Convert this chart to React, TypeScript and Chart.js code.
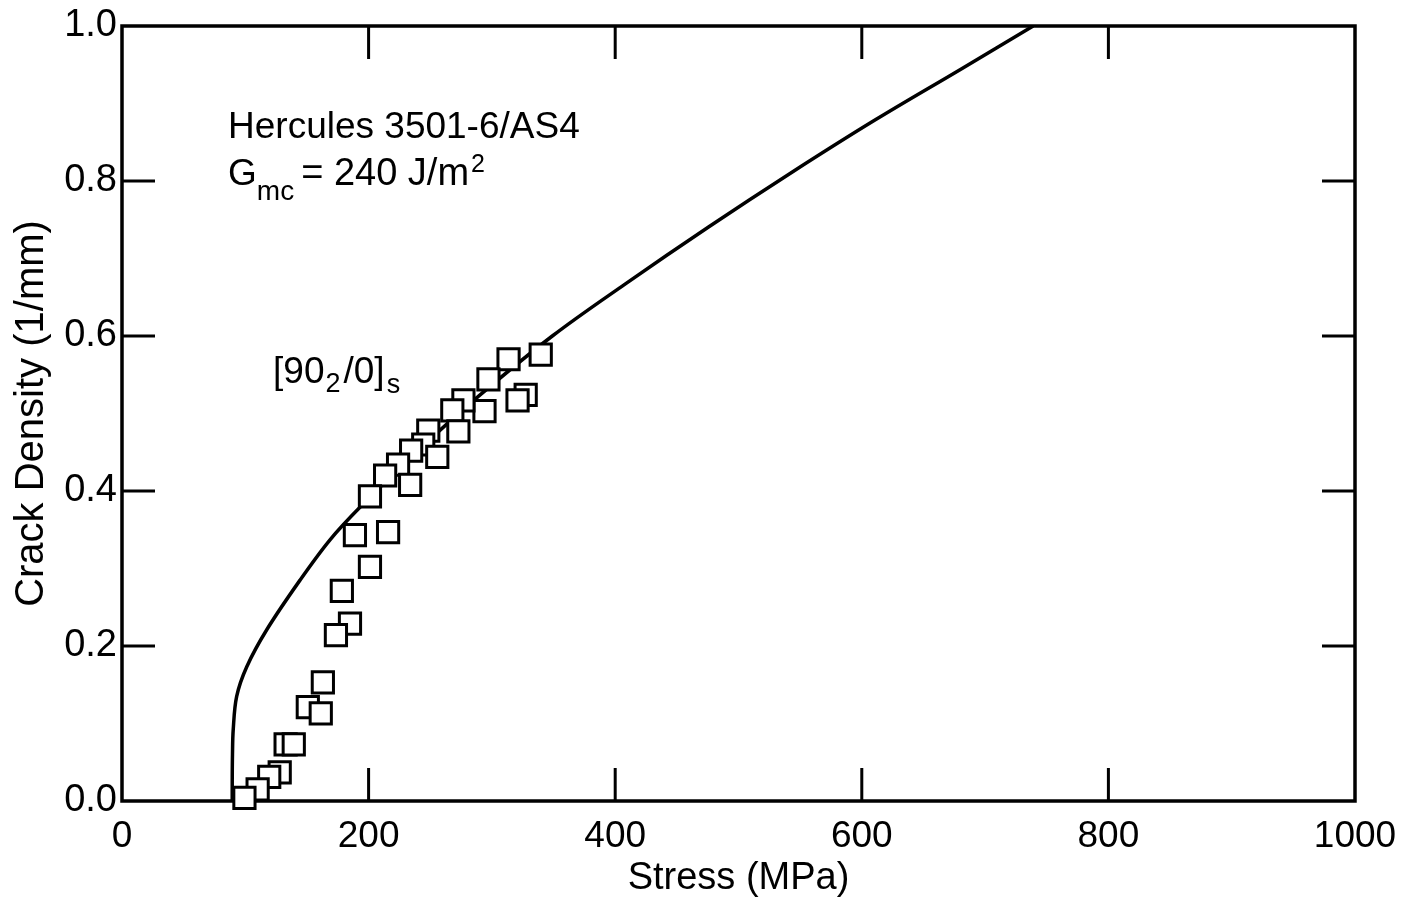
import React, { useEffect, useRef } from "react";
import { Chart, registerables } from "chart.js";

Chart.register(...registerables);

// Model curve (solid line)
const curveStress = [89.4, 89.4, 89.6, 90.2, 93.0, 101.1, 117.4, 144.4, 168.7, 193, 240, 289, 349, 408, 476, 544, 611, 680, 739];
const curveDensity = [0, 0.027, 0.06, 0.092, 0.135, 0.173, 0.221, 0.285, 0.337, 0.379, 0.452, 0.522, 0.6, 0.667, 0.741, 0.812, 0.879, 0.944, 1.0];

// Experimental data (open squares)
const expStress = [
  339.6, 313.5, 327.4, 320.8, 297.2, 294.0, 276.9, 267.9, 272.8, 248.4, 244.3, 255.7, 234.5, 223.9, 233.7,
  213.4, 201.1, 188.9, 215.8, 201.1, 178.3, 184.9, 173.5, 162.9, 150.7, 161.2, 132.7, 139.3, 127.9, 119.4,
  110.0, 99.3,
];
const expDensity = [
  0.576, 0.57, 0.524, 0.517, 0.544, 0.503, 0.517, 0.504, 0.477, 0.478, 0.46, 0.444, 0.452, 0.434, 0.408,
  0.42, 0.393, 0.343, 0.347, 0.302, 0.271, 0.229, 0.214, 0.153, 0.121, 0.113, 0.073, 0.073, 0.037, 0.031,
  0.015, 0.004,
];

const xTicks = [0, 200, 400, 600, 800, 1000];
const yTicks = [0, 0.2, 0.4, 0.6, 0.8, 1.0];

const FONT = "'Liberation Sans', Arial, Helvetica, sans-serif";

const framePlugin = {
  id: "frameTicks",
  beforeDatasetsDraw(chart: any) {
    const { ctx, chartArea: a, scales } = chart;
    const xs = scales.x;
    const ys = scales.y;
    const len = 33;
    ctx.save();
    ctx.strokeStyle = "#000";
    ctx.lineWidth = 3.5;
    ctx.lineCap = "square";
    ctx.strokeRect(a.left, a.top, a.right - a.left, a.bottom - a.top);
    ctx.beginPath();
    ctx.lineWidth = 3;
    ctx.lineCap = "butt";
    xTicks.forEach((v) => {
      if (v === xTicks[0] || v === xTicks[xTicks.length - 1]) return;
      const px = xs.getPixelForValue(v);
      ctx.moveTo(px, a.bottom);
      ctx.lineTo(px, a.bottom - len);
      ctx.moveTo(px, a.top);
      ctx.lineTo(px, a.top + len);
    });
    yTicks.forEach((v) => {
      if (v === yTicks[0] || v === yTicks[yTicks.length - 1]) return;
      const py = ys.getPixelForValue(v);
      ctx.moveTo(a.left, py);
      ctx.lineTo(a.left + len, py);
      ctx.moveTo(a.right, py);
      ctx.lineTo(a.right - len, py);
    });
    ctx.stroke();
    ctx.restore();
  },
  afterDraw(chart: any) {
    const { ctx, scales } = chart;
    const xs = scales.x;
    const ys = scales.y;
    ctx.save();
    ctx.fillStyle = "#000";
    ctx.textBaseline = "alphabetic";
    ctx.textAlign = "left";
    const big = `37px ${FONT}`;
    const sub = `28px ${FONT}`;
    const sup = `25px ${FONT}`;

    // Hercules 3501-6/AS4
    let x = xs.getPixelForValue(86);
    let y = ys.getPixelForValue(0.855);
    ctx.font = big;
    ctx.fillText("Hercules 3501-6/AS4", x, y);

    // G_mc = 240 J/m^2
    y = ys.getPixelForValue(0.795);
    ctx.font = big;
    ctx.fillText("G", x, y);
    x += ctx.measureText("G").width;
    ctx.font = sub;
    ctx.fillText("mc", x, y + 15);
    x += ctx.measureText("mc").width + 7;
    ctx.font = `38px ${FONT}`;
    const eq = "= 240 J/m";
    ctx.fillText(eq, x, y);
    x += ctx.measureText(eq).width + 2;
    ctx.font = sup;
    ctx.fillText("2", x, y - 13);

    // [90_2/0]_s
    x = xs.getPixelForValue(122.5);
    y = ys.getPixelForValue(0.539);
    ctx.font = big;
    ctx.fillText("[90", x, y);
    x += ctx.measureText("[90").width + 1;
    ctx.font = `27px ${FONT}`;
    ctx.fillText("2", x, y + 9);
    x += ctx.measureText("2").width + 3;
    ctx.font = big;
    ctx.fillText("/0]", x, y);
    x += ctx.measureText("/0]").width + 2;
    ctx.font = `27px ${FONT}`;
    ctx.fillText("s", x, y + 10);
    ctx.restore();
  },
};

export default function App() {
  const ref = useRef<HTMLCanvasElement | null>(null);
  useEffect(() => {
    if (!ref.current) return;
    const chart = new Chart(ref.current, {
      type: "scatter",
      data: {
        datasets: [
          {
            label: "Experiment",
            data: expStress.map((s, i) => ({ x: s, y: expDensity[i] })),
            pointStyle: "rect",
            pointRadius: 15,
            backgroundColor: "#fff",
            borderColor: "#000",
            borderWidth: 3,
            showLine: false,
            clip: false as any,
          },
          {
            label: "Model",
            data: curveStress.map((s, i) => ({ x: s, y: curveDensity[i] })),
            showLine: true,
            borderColor: "#000",
            borderWidth: 3.5,
            pointRadius: 0,
            tension: 0.35,
            fill: false,
          },
        ],
      },
      options: {
        animation: false,
        responsive: false,
        maintainAspectRatio: false,
        layout: { padding: { left: 0, right: 52, top: 26, bottom: 0 } },
        plugins: { legend: { display: false }, tooltip: { enabled: false } },
        scales: {
          x: {
            type: "linear",
            min: 0,
            max: 1000,
            afterBuildTicks: (s: any) => {
              s.ticks = xTicks.map((v) => ({ value: v }));
            },
            afterFit: (s: any) => {
              s.height = 104;
              s.paddingLeft = 0;
              s.paddingRight = 0;
            },
            ticks: {
              color: "#000",
              font: { family: FONT, size: 37 },
              padding: 14,
              maxRotation: 0,
              callback: (v: any) => String(v),
            },
            grid: { display: false, drawTicks: false },
            border: { display: false },
            title: {
              display: true,
              text: "Stress (MPa)",
              color: "#000",
              font: { family: FONT, size: 38, lineHeight: 1.2 },
              padding: { top: 0, bottom: 4 },
            },
          },
          y: {
            type: "linear",
            min: 0,
            max: 1,
            afterBuildTicks: (s: any) => {
              s.ticks = yTicks.map((v) => ({ value: v }));
            },
            afterFit: (s: any) => {
              s.width = 122;
              s.paddingTop = 0;
              s.paddingBottom = 0;
            },
            ticks: {
              color: "#000",
              font: { family: FONT, size: 38 },
              padding: 5,
              callback: (v: any) => Number(v).toFixed(1),
            },
            grid: { display: false, drawTicks: false },
            border: { display: false },
            title: {
              display: true,
              text: "Crack Density (1/mm)",
              color: "#000",
              font: { family: FONT, size: 40, lineHeight: 1.2 },
              padding: { top: 8, bottom: 0 },
            },
          },
        },
      },
      plugins: [framePlugin],
    });
    return () => chart.destroy();
  }, []);
  return (
    <div style={{ position: "fixed", left: 0, top: 0, width: 1407, height: 905, background: "#fff" }}>
      <canvas ref={ref} width={1407} height={905} style={{ width: 1407, height: 905, display: "block" }} />
    </div>
  );
}
